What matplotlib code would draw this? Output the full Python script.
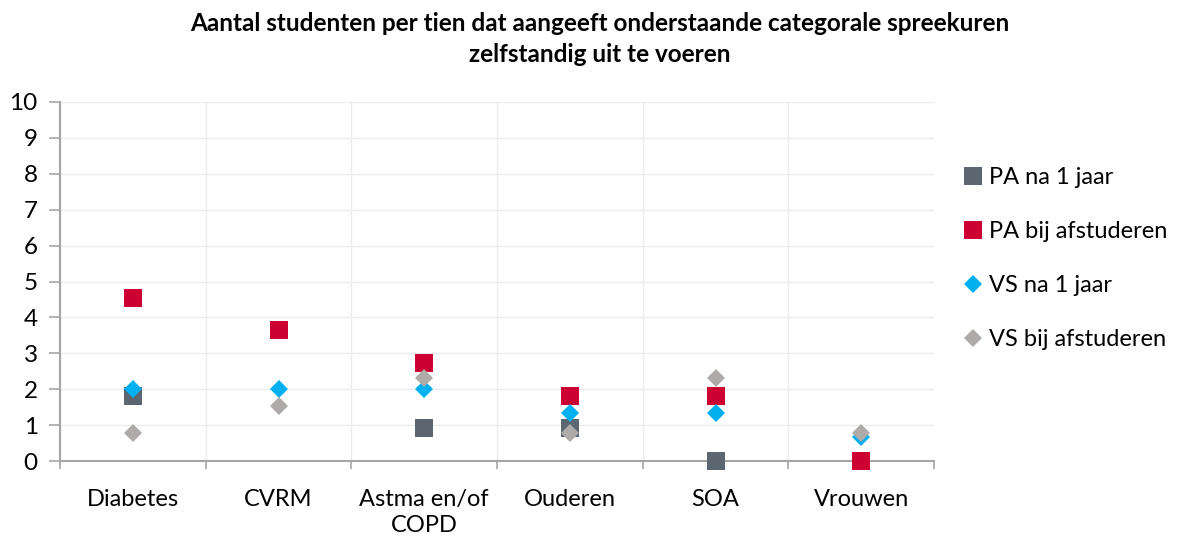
import matplotlib.pyplot as plt
import numpy as np

plt.rcParams['font.family'] = ['Lato', 'DejaVu Sans']

categories = ['Diabetes', 'CVRM', 'Astma en/of\nCOPD', 'Ouderen', 'SOA', 'Vrouwen']
series_names = ['PA na 1 jaar', 'PA bij afstuderen', 'VS na 1 jaar', 'VS bij afstuderen']
pa_na_1_jaar = [1.82, np.nan, 0.91, 0.91, 0.0, 0.0]
pa_bij_afstuderen = [4.55, 3.64, 2.73, 1.82, 1.82, 0.0]
vs_na_1_jaar = [2.0, 2.0, 2.0, 1.33, 1.33, 0.67]
vs_bij_afstuderen = [0.77, 1.54, 2.31, 0.77, 2.31, 0.77]

colors = ['#5b6670', '#cc0033', '#00b0f0', '#aeaaaa']
markers = ['s', 's', 'D', 'D']
sizes = [13.5, 13.5, 8.8, 8.8]

fig = plt.figure(figsize=(11.84, 5.37), dpi=100)
ax = fig.add_axes([60 / 1184, 1 - 461 / 537, 874 / 1184, 359 / 537])

x = np.arange(len(categories))
for vals, name, c, m, s in zip([pa_na_1_jaar, pa_bij_afstuderen, vs_na_1_jaar, vs_bij_afstuderen],
                               series_names, colors, markers, sizes):
    ax.plot(x, vals, linestyle='none', marker=m, markersize=s, color=c,
            markeredgewidth=0, label=name, clip_on=False, zorder=3)

ax.set_xlim(-0.5, len(categories) - 0.5)
ax.set_ylim(0, 10)
ax.set_yticks(range(0, 11))
ax.set_xticks(x)
ax.set_xticklabels(categories, fontsize=17, linespacing=1.3)
ax.set_xticks(np.arange(-0.5, len(categories)), minor=True)
ax.tick_params(axis='x', which='major', length=0, pad=20)
ax.tick_params(axis='x', which='minor', length=6, color='#a6a6a6', width=1.2)
ax.tick_params(axis='y', length=8, color='#a6a6a6', width=1.2, labelsize=17.5, pad=8)

ax.grid(axis='y', color='#ececec', linewidth=1)
ax.grid(axis='x', which='minor', color='#ececec', linewidth=1)
ax.set_axisbelow(True)
for side in ['top', 'right']:
    ax.spines[side].set_visible(False)
for side in ['left', 'bottom']:
    ax.spines[side].set_color('#a6a6a6')
    ax.spines[side].set_linewidth(1.5)

fig.text(600 / 1184, 1 - 39 / 537,
         'Aantal studenten per tien dat aangeeft onderstaande categorale spreekuren\nzelfstandig uit te voeren',
         ha='center', va='center', fontsize=17.5, fontweight='bold', linespacing=1.45)

ax.legend(loc='center left', bbox_to_anchor=(905 / 874, 0.563), frameon=False,
          fontsize=17, handlelength=0.7, handletextpad=0.3, labelspacing=1.4,
          borderaxespad=0, borderpad=0)

fig.savefig('out.png', dpi=100)
